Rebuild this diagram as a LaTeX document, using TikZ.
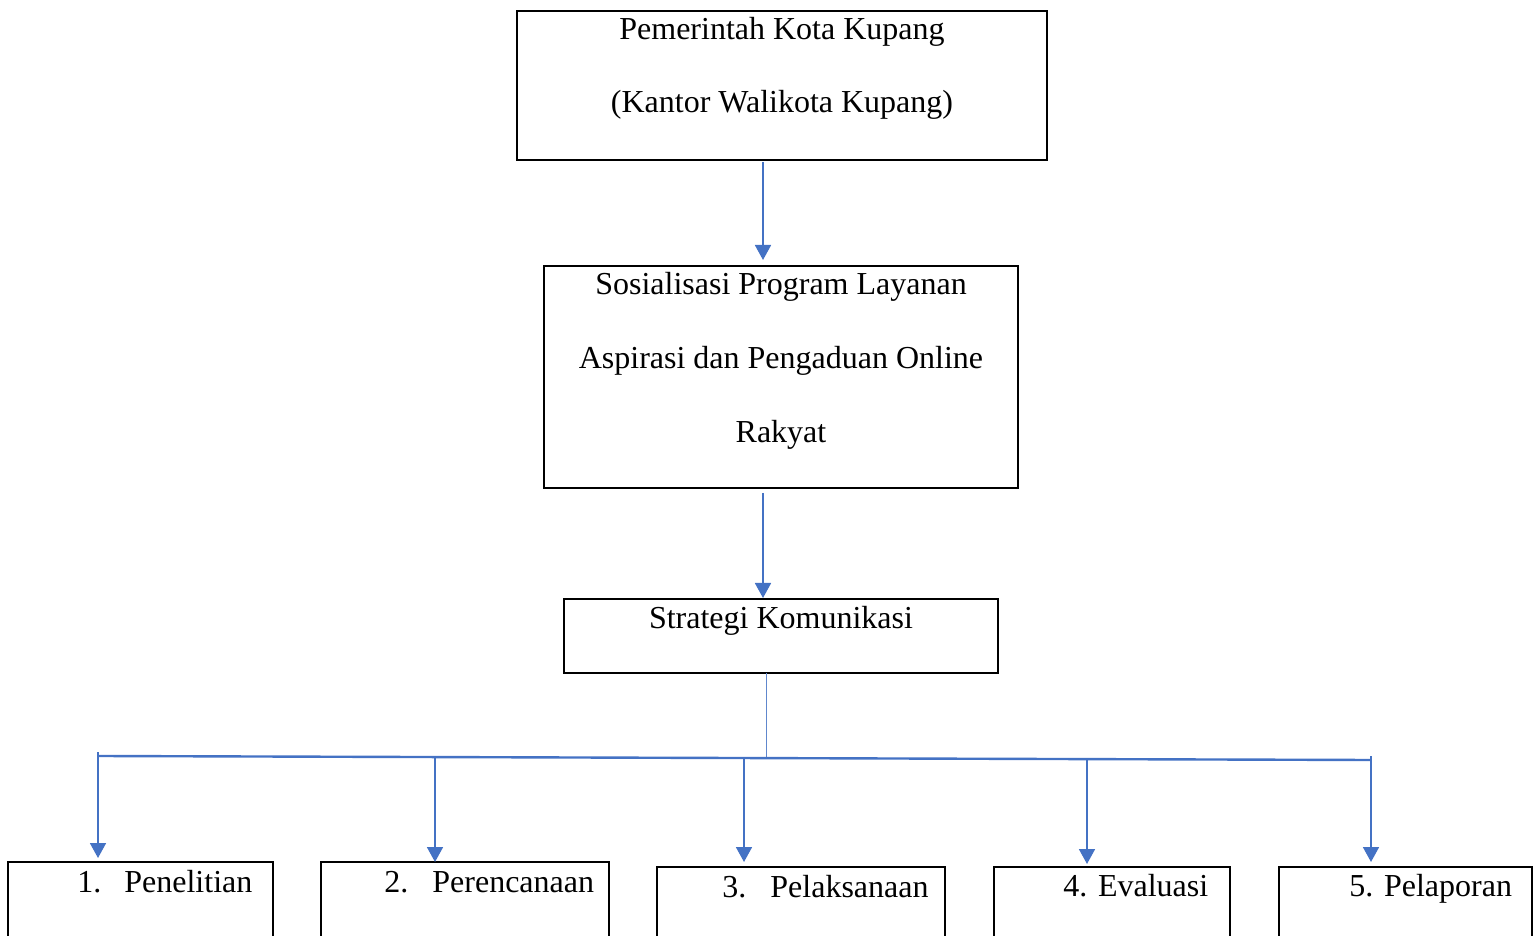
\documentclass[tikz,border=0pt]{standalone}
\usepackage{fontspec}
\setmainfont{Liberation Serif}
\usetikzlibrary{arrows.meta}
\definecolor{wblue}{RGB}{68,114,196}
\begin{document}
\begin{tikzpicture}[x=0.5pt,y=-0.5pt,
  box/.style={draw=black,line width=1pt,rectangle,inner sep=0pt,outer sep=0pt,anchor=north west},
  txt/.style={inner sep=0pt,anchor=base,font=\fontsize{16}{19}\selectfont},
  ltxt/.style={inner sep=0pt,anchor=base west,font=\fontsize{16}{19}\selectfont},
  arr/.style={draw=wblue,line width=0.9pt,-{Triangle[length=7.5pt,width=8pt]}},
  hline/.style={draw=wblue,line width=1.2pt},
  thin/.style={draw=wblue!85,line width=0.5pt}]
\useasboundingbox (0,0) rectangle (1539,936);
% boxes
\node[box,minimum width=265pt,minimum height=74.5pt] (b1) at (517,11) {};
\node[box,minimum width=237pt,minimum height=111pt] (b2) at (544,266) {};
\node[box,minimum width=217pt,minimum height=37pt] (b3) at (564,599) {};
\node[box,minimum width=132.5pt,minimum height=50pt] (ba) at (8,862) {};
\node[box,minimum width=144pt,minimum height=50pt] (bb) at (321,862) {};
\node[box,minimum width=144pt,minimum height=50pt] (bc) at (657,867) {};
\node[box,minimum width=118pt,minimum height=50pt] (bd) at (994,867) {};
\node[box,minimum width=126.5pt,minimum height=50pt] (be) at (1279,867) {};
% texts
\node[txt] (t1a) at (782,40) {Pemerintah Kota Kupang};
\node[txt] (t1b) at (782,113) {(Kantor Walikota Kupang)};
\node[txt] (t2a) at (781,295) {Sosialisasi Program Layanan};
\node[txt] (t2b) at (781,369) {Aspirasi dan Pengaduan Online};
\node[txt] (t2c) at (781,443) {Rakyat};
\node[txt] (t3) at (781,628) {Strategi Komunikasi};
\node[ltxt] (ta) at (77,892) {\makebox[23.5pt][l]{1.}Penelitian};
\node[ltxt] (tb) at (384,892) {\makebox[24pt][l]{2.}Perencanaan};
\node[ltxt] (tc) at (722,897) {\makebox[24pt][l]{3.}Pelaksanaan};
\node[ltxt] (td) at (1063,896) {4. Evaluasi};
\node[ltxt] (te) at (1349,896) {5. Pelaporan};
% connectors
\draw[arr,shorten <=1pt,shorten >=3pt] (763,0 |- b1.south) -- (763,0 |- b2.north);
\draw[arr,shorten <=2.5pt,shorten >=0.5pt] (763,0 |- b2.south) -- (763,0 |- b3.north);
\coordinate (hl) at (98,756);
\coordinate (hr) at (1371,760);
\draw[thin] (766,0 |- b3.south) -- (766,757);
\draw[hline] (hl) -- (hr);
\draw[arr,shorten >=2pt] (98,752) -- (98,0 |- ba.north);
\draw[arr] (435,756.5) -- (435,0 |- bb.north);
\draw[arr,shorten >=2.5pt] (744,757.5) -- (744,0 |- bc.north);
\draw[arr,shorten >=1.5pt] (1087,758.5) -- (1087,0 |- bd.north);
\draw[arr,shorten >=2.5pt] (1371,756) -- (1371,0 |- be.north);
\end{tikzpicture}
\end{document}
